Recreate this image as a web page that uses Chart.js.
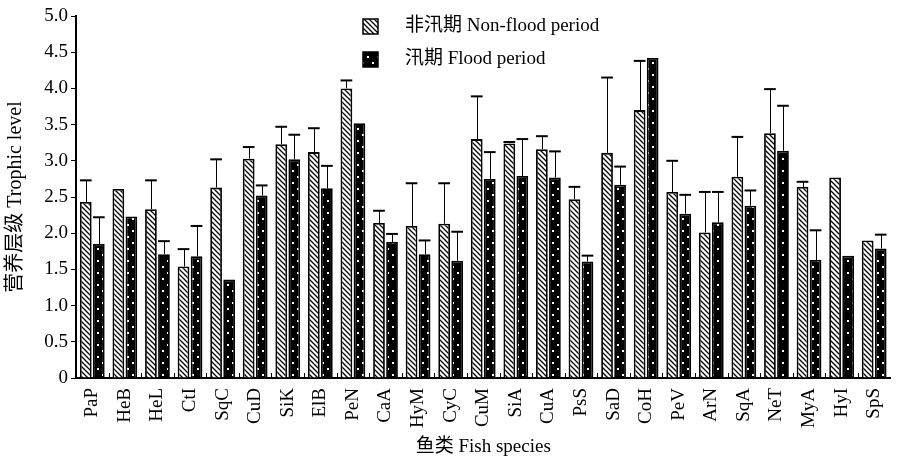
<!DOCTYPE html>
<html>
<head>
<meta charset="utf-8">
<script src="https://cdn.jsdelivr.net/npm/chart.js@4.4.1/dist/chart.umd.min.js"></script>
<style>
  body { margin: 0; background: #fff; }
  #wrap { width: 899px; height: 460px; }
</style>
</head>
<body>
<div id="wrap"><canvas id="trophic-chart" width="899" height="460"></canvas></div>
<script>
const species = ["PaP", "HeB", "HeL", "CtI", "SqC", "CuD", "SiK", "ElB", "PeN", "CaA", "HyM", "CyC", "CuM",
    "SiA", "CuA", "PsS", "SaD", "CoH", "PeV", "ArN", "SqA", "NeT", "MyA", "HyI", "SpS"];

const nonFlood = [2.43, 2.61, 2.33, 1.54, 2.63, 3.03, 3.23, 3.12, 4.00, 2.14, 2.10, 2.13, 3.30,
    3.24, 3.16, 2.47, 3.11, 3.70, 2.57, 2.01, 2.78, 3.38, 2.64, 2.77, 1.90];
const nonFloodSd = [0.30, 0, 0.40, 0.24, 0.39, 0.16, 0.24, 0.33, 0.11, 0.17, 0.59, 0.56, 0.59,
    0.02, 0.18, 0.17, 1.04, 0.68, 0.43, 0.56, 0.55, 0.61, 0.07, 0, 0];

const flood = [1.85, 2.23, 1.71, 1.68, 1.36, 2.52, 3.02, 2.62, 3.52, 1.88, 1.71, 1.62, 2.75,
    2.79, 2.77, 1.61, 2.67, 4.42, 2.27, 2.15, 2.38, 3.14, 1.63, 1.69, 1.79];
const floodSd = [0.37, 0, 0.18, 0.42, 0, 0.14, 0.34, 0.31, 0, 0.11, 0.19, 0.40, 0.37,
    0.51, 0.36, 0.08, 0.25, 0, 0.26, 0.42, 0.21, 0.62, 0.41, 0, 0.19];

const yTicks = [0, 0.5, 1.0, 1.5, 2.0, 2.5, 3.0, 3.5, 4.0, 4.5, 5.0];

const serif = '"Liberation Serif", "Noto Sans CJK SC", serif';

// hatch for non-flood bars, white with "\" stripes
const makeHatch = () => {
    const s = 5;
    const c = document.createElement("canvas");
    c.width = s; c.height = s;
    const g = c.getContext("2d");
    g.fillStyle = "#fff";
    g.fillRect(0, 0, s, s);
    g.strokeStyle = "#000";
    g.lineWidth = 1.3;
    g.beginPath();
    g.moveTo(-1, -1); g.lineTo(s + 1, s + 1);
    g.moveTo(s - 1, -1); g.lineTo(s + 1, 1);
    g.moveTo(-1, s - 1); g.lineTo(1, s + 1);
    g.stroke();
    return g.createPattern(c, "repeat");
};

// black with white dots for flood bars
const makeDots = () => {
    const c = document.createElement("canvas");
    c.width = 10; c.height = 12;
    const g = c.getContext("2d");
    g.fillStyle = "#000";
    g.fillRect(0, 0, 10, 12);
    g.fillStyle = "#fff";
    g.fillRect(2, 2, 2, 2);
    g.fillRect(7, 8, 2, 2);
    return g.createPattern(c, "repeat");
};

const hatch = makeHatch();
const dots = makeDots();

const errorBars = {
    id: "errorBars",
    afterDatasetsDraw(chart) {
        const { ctx, scales: { y } } = chart;
        ctx.save();
        ctx.strokeStyle = "#000";
        chart.data.datasets.forEach((ds, d) => {
            const meta = chart.getDatasetMeta(d);
            meta.data.forEach((bar, i) => {
                const sd = ds.sd[i];
                if (!sd) return;
                const top = y.getPixelForValue(ds.data[i] + sd);
                const x = Math.round(bar.x) + 0.5;
                ctx.lineWidth = 1;
                ctx.beginPath();
                ctx.moveTo(x, bar.y);
                ctx.lineTo(x, top);
                ctx.stroke();
                ctx.lineWidth = 2;
                ctx.beginPath();
                ctx.moveTo(bar.x - bar.width / 2, top);
                ctx.lineTo(bar.x + bar.width / 2, top);
                ctx.stroke();
            });
        });
        ctx.restore();
    }
};

// small inward ticks between categories on the x axis
const boundaryTicks = {
    id: "boundaryTicks",
    afterDraw(chart) {
        const { ctx, scales: { x }, chartArea } = chart;
        const half = (x.getPixelForValue(1) - x.getPixelForValue(0)) / 2;
        ctx.save();
        ctx.strokeStyle = "#000";
        ctx.lineWidth = 1;
        for (let i = 1; i < species.length; i++) {
            const px = Math.round(x.getPixelForValue(i) - half) + 0.5;
            ctx.beginPath();
            ctx.moveTo(px, chartArea.bottom);
            ctx.lineTo(px, chartArea.bottom - 5);
            ctx.stroke();
        }
        ctx.restore();
    }
};

const boxLegend = {
    id: "boxLegend",
    afterDraw(chart) {
        const { ctx } = chart;
        ctx.save();
        ctx.font = "19px " + serif;
        ctx.textBaseline = "middle";
        chart.data.datasets.forEach((ds, d) => {
            const cy = 26 + d * 33;
            ctx.fillStyle = ds.backgroundColor;
            ctx.fillRect(363, cy - 7, 15, 15);
            ctx.strokeStyle = "#000";
            ctx.lineWidth = 1.5;
            ctx.strokeRect(363, cy - 7, 15, 15);
            ctx.fillStyle = "#000";
            ctx.fillText(ds.label, 405, cy);
        });
        ctx.restore();
    }
};

new Chart(document.getElementById("trophic-chart"), {
    type: "bar",
    data: {
        labels: species,
        datasets: [
            {
                label: "非汛期 Non-flood period",
                data: nonFlood,
                sd: nonFloodSd,
                backgroundColor: hatch,
                borderColor: "#000",
                borderWidth: 1.8
            },
            {
                label: "汛期 Flood period",
                data: flood,
                sd: floodSd,
                backgroundColor: dots,
                borderColor: "#000",
                borderWidth: 1.8
            }
        ]
    },
    options: {
        responsive: false,
        animation: false,
        layout: { padding: { top: 16, right: 0, left: 0, bottom: 0 } },
        categoryPercentage: 0.8,
        barPercentage: 0.9,
        plugins: {
            legend: { display: false },
            tooltip: { enabled: false }
        },
        scales: {
            x: {
                grid: { display: false },
                border: { display: true, color: "#000", width: 2 },
                ticks: {
                    color: "#000",
                    font: { family: serif, size: 19 },
                    maxRotation: 90,
                    minRotation: 90,
                    padding: 2,
                    autoSkip: false
                },
                title: {
                    display: true,
                    text: "鱼类 Fish species",
                    color: "#000",
                    font: { family: serif, size: 19 },
                    padding: { top: 0, bottom: 2 }
                },
                afterFit: scale => { scale.height = 82; }
            },
            y: {
                min: 0,
                max: 5,
                afterBuildTicks: scale => { scale.ticks = yTicks.map(v => ({ value: v })); },
                grid: { drawOnChartArea: false, drawTicks: true, tickLength: 5, color: "#000", lineWidth: 1 },
                border: { display: true, color: "#000", width: 2 },
                ticks: {
                    color: "#000",
                    font: { family: serif, size: 19 },
                    padding: 3,
                    callback: v => v === 0 ? "0" : v.toFixed(1)
                },
                title: {
                    display: true,
                    text: "营养层级 Trophic level",
                    color: "#000",
                    font: { family: serif, size: 20 },
                    padding: { top: 4, bottom: 0 }
                },
                afterFit: scale => { scale.width = 76; }
            }
        }
    },
    plugins: [errorBars, boundaryTicks, boxLegend]
});
</script>
</body>
</html>
